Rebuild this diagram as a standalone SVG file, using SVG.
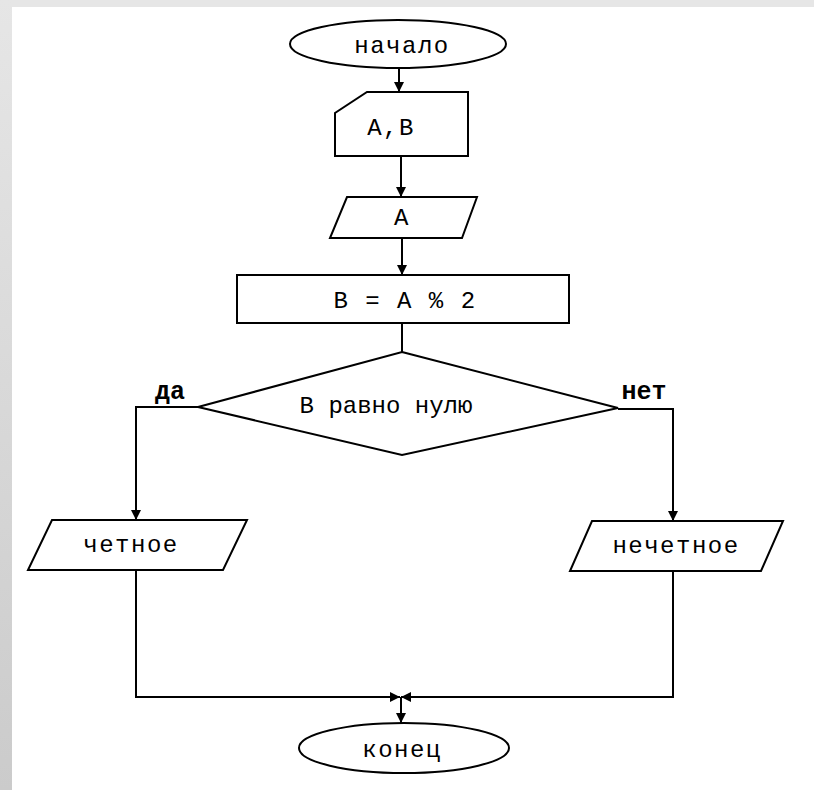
<svg xmlns="http://www.w3.org/2000/svg" width="814" height="790" viewBox="0 0 814 790">
  <defs>
    <linearGradient id="edge" x1="0" y1="0" x2="0" y2="1">
      <stop offset="0" stop-color="#e6e6e6"/>
      <stop offset="1" stop-color="#cbcbcb"/>
    </linearGradient>
    <marker id="arrow" viewBox="0 0 10 10" refX="10" refY="5" markerWidth="10" markerHeight="10" markerUnits="userSpaceOnUse" orient="auto">
      <path d="M0,0 L10,5 L0,10 Z" fill="#000"/>
    </marker>
    <style>
      .shape { fill: #fff; stroke: #000; stroke-width: 2; }
      .link { fill: none; stroke: #000; stroke-width: 2; }
      .arr { marker-end: url(#arrow); }
      .lbl { font-family: "Liberation Mono", "Courier New", monospace; font-size: 24px; letter-spacing: 1.5px; text-anchor: middle; fill: #000; }
      .tight { letter-spacing: 0; }
      .yn { font-family: "Liberation Mono", "Courier New", monospace; font-size: 25px; font-weight: bold; text-anchor: middle; fill: #000; }
    </style>
  </defs>

  <!-- page and frame -->
  <rect x="0" y="0" width="814" height="790" fill="#fff"/>
  <rect x="0" y="0" width="814" height="7" fill="#e6e6e6"/>
  <rect x="0" y="0" width="12" height="790" fill="url(#edge)"/>

  <g id="connectors">
    <line class="link arr" x1="399" y1="68" x2="399" y2="92"/>
    <line class="link arr" x1="401" y1="156" x2="401" y2="197"/>
    <line class="link arr" x1="402" y1="238" x2="402" y2="275"/>
    <line class="link" x1="402" y1="323" x2="402" y2="352"/>
    <polyline class="link arr" points="198,407 136,407 136,520"/>
    <polyline class="link arr" points="618,409 673,409 673,521"/>
    <polyline class="link arr" points="136,570 136,697 400,697"/>
    <polyline class="link arr" points="673,571 673,697 401,697"/>
    <line class="link arr" x1="401" y1="697" x2="401" y2="723"/>
  </g>

  <g id="start">
    <ellipse class="shape" cx="398" cy="44" rx="108" ry="24"/>
    <text class="lbl" x="402" y="53">начало</text>
  </g>

  <g id="input">
    <polygon class="shape" points="367,92 468,92 468,156 335,156 335,113"/>
    <text class="lbl" x="391" y="135">A,B</text>
  </g>

  <g id="read-a">
    <polygon class="shape" points="347,197 477,197 462,238 330,238"/>
    <text class="lbl" x="402" y="225">A</text>
  </g>

  <g id="assign">
    <rect class="shape" x="237" y="275" width="332" height="48"/>
    <text class="lbl" x="405" y="308">B = A % 2</text>
  </g>

  <g id="check">
    <polygon class="shape" points="402,352 618,408 402,455 198,407"/>
    <text class="lbl tight" x="386" y="413">В равно нулю</text>
    <text class="yn" x="170" y="399">да</text>
    <text class="yn" x="644" y="399">нет</text>
  </g>

  <g id="even">
    <polygon class="shape" points="52,520 247,520 223,570 28,570"/>
    <text class="lbl" x="131" y="552">четное</text>
  </g>

  <g id="odd">
    <polygon class="shape" points="592,521 783,521 761,571 570,571"/>
    <text class="lbl" x="676" y="553">нечетное</text>
  </g>

  <g id="end">
    <ellipse class="shape" cx="404" cy="748" rx="105" ry="25"/>
    <text class="lbl" x="402" y="757">конец</text>
  </g>
</svg>
